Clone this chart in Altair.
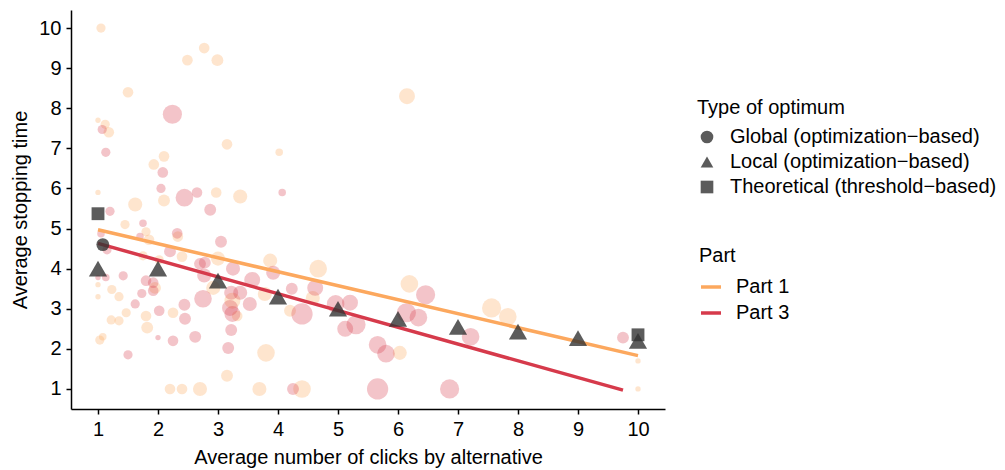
import altair as alt
import pandas as pd

# ---- Part 1 bubbles (x = avg clicks, y = avg stopping time, w = weight) ----
p1_x = [1.05, 2.49, 2.77, 2.99, 1.5, 6.15, 1.0, 1.12, 1.18, 3.15, 4.02, 2.1, 1.93, 1.0, 1.62,
        2.1, 2.97, 3.37, 1.45, 1.8, 1.85, 2.33, 1.75, 2.02, 2.4, 3.0, 3.87, 4.67, 1.0, 1.0,
        1.23, 1.35, 1.95, 1.47, 1.8, 1.22, 1.35, 1.82, 2.25, 2.92, 3.24, 3.32, 3.78, 4.58, 4.2,
        1.03, 1.08, 3.8, 3.15, 2.2, 2.4, 2.7, 3.69, 4.4, 6.19, 6.03, 7.56, 7.83, 10.0, 10.0]
p1_y = [10.0, 9.2, 9.5, 9.2, 8.4, 8.3, 7.7, 7.6, 7.4, 7.1, 6.9, 6.8, 6.6, 5.9, 5.6,
        5.7, 5.9, 5.8, 5.1, 4.92, 4.72, 4.8, 4.32, 4.22, 4.3, 4.25, 4.2, 4.0, 3.6, 3.3,
        3.48, 3.3, 3.52, 2.9, 2.82, 2.72, 2.7, 2.53, 2.9, 3.52, 3.2, 2.82, 3.37, 3.27, 2.95,
        2.22, 2.3, 1.9, 1.33, 1.0, 1.0, 1.0, 1.0, 1.0, 3.62, 1.9, 3.02, 2.8, 1.7, 1.0]
p1_w = [3, 4, 4, 5, 4, 9, 1, 3, 4, 4, 2, 4, 4, 1, 7,
        5, 4, 7, 3, 3, 4, 4, 3, 3, 4, 7, 7, 11, 1, 1,
        3, 3, 5, 3, 4, 3, 3, 5, 4, 7, 9, 4, 7, 7, 5,
        3, 2, 11, 5, 4, 4, 7, 7, 11, 11, 7, 13, 11, 1, 1]

# ---- Part 3 bubbles ----
p3_x = [2.24, 1.07, 1.13, 2.08, 2.05, 2.44, 2.65, 2.87, 4.07, 1.2, 1.75, 1.7, 1.05, 2.32, 1.15,
        2.2, 3.05, 2.7, 2.78, 3.25, 2.77, 3.57, 3.92, 1.8, 1.92, 1.92, 1.42, 1.13, 1.0, 1.73,
        1.62, 2.02, 2.44, 2.45, 2.75, 3.22, 3.37, 3.53, 3.24, 3.22, 3.17, 2.25, 2.62, 2.0, 1.5,
        4.25, 4.4, 4.23, 4.62, 4.96, 5.2, 5.12, 5.3, 5.66, 5.8, 5.66, 6.86, 6.46, 6.14, 6.34,
        7.21, 9.75, 3.2]
p3_y = [7.85, 7.47, 6.9, 6.4, 6.0, 5.77, 5.9, 5.47, 5.9, 5.43, 5.13, 4.8, 4.87, 4.88, 4.47,
        4.43, 4.67, 4.12, 4.15, 4.0, 3.83, 3.72, 3.9, 3.7, 3.65, 3.45, 3.82, 3.78, 3.78, 3.38,
        3.12, 2.95, 3.1, 2.75, 3.25, 3.4, 3.4, 3.12, 2.87, 2.47, 2.02, 2.2, 2.3, 2.28, 1.85,
        1.0, 2.87, 3.5, 3.52, 3.12, 3.15, 2.5, 2.6, 2.1, 1.88, 1.0, 1.0, 3.35, 2.9, 2.78,
        2.3, 2.28, 3.02]
p3_w = [13, 3, 3, 4, 3, 11, 4, 5, 2, 3, 2, 2, 2, 4, 3,
        5, 5, 5, 5, 7, 7, 9, 7, 4, 4, 4, 3, 2, 1, 3,
        3, 4, 5, 5, 11, 7, 7, 7, 9, 5, 5, 4, 5, 1, 3,
        5, 16, 5, 9, 11, 9, 9, 13, 11, 11, 16, 13, 13, 13, 11,
        11, 5, 9]

# ---- fitted lines ----
line_part = ["Part 1", "Part 1", "Part 3", "Part 3"]
line_x = [1.0, 10.0, 1.0, 9.75]
line_y = [4.97, 1.83, 4.63, 0.97]

# ---- optimum markers ----
opt_types = ["Global (optimization\u2212based)", "Local (optimization\u2212based)",
             "Theoretical (threshold\u2212based)"]
opt_x = [1.08, 1, 10, 1, 2, 3, 4, 5, 6, 7, 8, 9, 10]
opt_y = [4.6, 5.37, 2.35, 4.0, 4.0, 3.7, 3.3, 3.0, 2.75, 2.55, 2.43, 2.27, 2.2]
opt_type = [opt_types[0], opt_types[2], opt_types[2]] + [opt_types[1]] * 10

parts = ["Part 1", "Part 3"]
part_colors = ["#FCA85E", "#D63A4B"]

bubbles = pd.DataFrame({
    "x": p1_x + p3_x,
    "y": p1_y + p3_y,
    "w": p1_w + p3_w,
    "bpart": ["Part 1"] * len(p1_x) + ["Part 3"] * len(p3_x),
})
lines = pd.DataFrame({"x": line_x, "y": line_y, "part": line_part})
marks = pd.DataFrame({"x": opt_x, "y": opt_y, "type": opt_type})

FONT = "Liberation Sans"
xs = alt.Scale(domain=[0.55, 10.45], nice=False, zero=False)
ys = alt.Scale(domain=[0.5, 10.45], nice=False, zero=False)
xax = alt.Axis(values=list(range(1, 11)), format="d", title="Average number of clicks by alternative",
               labelPadding=5, titlePadding=8)
yax = alt.Axis(values=list(range(1, 11)), format="d", title="Average stopping time",
               labelPadding=5, titlePadding=8)

X = alt.X("x:Q", scale=xs, axis=xax)
Y = alt.Y("y:Q", scale=ys, axis=yax)

bub = alt.Chart(bubbles).mark_circle(opacity=0.3).encode(
    x=X, y=Y,
    color=alt.Color("bpart:N", scale=alt.Scale(domain=parts, range=part_colors), legend=None),
    size=alt.Size("w:Q", scale=alt.Scale(domain=[0, 16], range=[0, 452], zero=True), legend=None),
)

ln = alt.Chart(lines).mark_line(strokeWidth=3.5).encode(
    x=X, y=Y,
    color=alt.Color("part:N", scale=alt.Scale(domain=parts, range=part_colors),
                    legend=alt.Legend(title="Part", orient="none", legendX=628, legendY=236,
                                      symbolType="stroke", symbolStrokeWidth=3.5, symbolSize=400,
                                      rowPadding=4)),
)

mk = alt.Chart(marks).mark_point(filled=True, opacity=0.8, color="#333333").encode(
    x=X, y=Y,
    shape=alt.Shape("type:N", scale=alt.Scale(domain=opt_types, range=["circle", "triangle-up", "square"]),
                    legend=alt.Legend(title="Type of optimum", orient="none", legendX=626, legendY=88,
                                      symbolSize=160)),
    size=alt.condition(alt.datum.type == opt_types[1], alt.value(330), alt.value(165)),
)

chart = alt.layer(bub, ln, mk).resolve_scale(color="independent", size="independent").properties(
    width=594, height=399,
    autosize=alt.AutoSizeParams(type="none"),
    padding={"left": 63, "top": 2, "right": 332, "bottom": 60},
).configure_view(stroke=None).configure_axis(
    grid=False, labelFont=FONT, titleFont=FONT, labelFontSize=20, titleFontSize=20,
    titleFontWeight="normal", labelColor="#000000", titleColor="#000000",
    domainColor="#000000", tickColor="#000000", domainWidth=1.5, tickWidth=1.5, tickSize=5,
).configure_legend(
    labelFont=FONT, titleFont=FONT, labelFontSize=20, titleFontSize=20, titleFontWeight="normal",
    labelColor="#000000", titleColor="#000000", padding=0, rowPadding=5, titlePadding=9,
    labelOffset=13, labelLimit=0,
)

chart.save("out.html", embed_options={"renderer": "svg", "actions": False})
